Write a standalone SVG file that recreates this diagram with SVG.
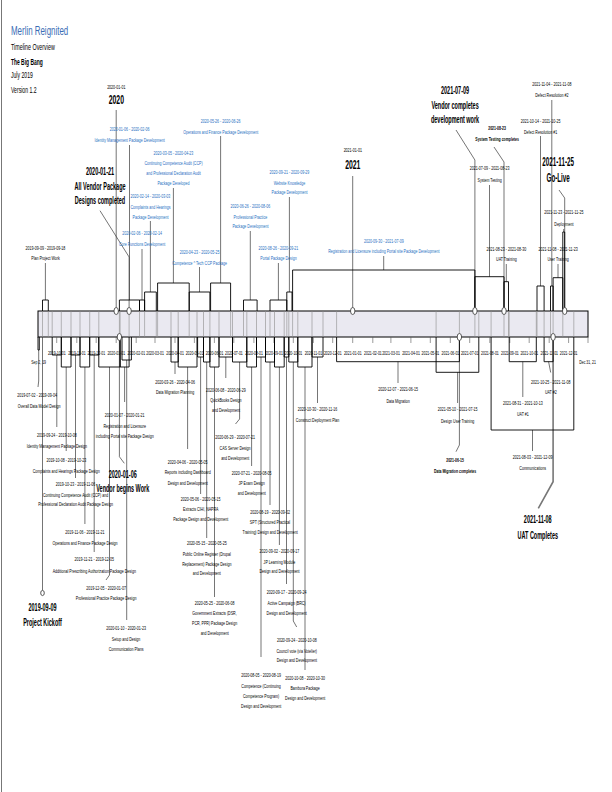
<svg xmlns="http://www.w3.org/2000/svg" width="612" height="792" viewBox="0 0 612 792">
<style>
text{font-family:"Liberation Sans",Arial,sans-serif;text-anchor:middle;transform-box:fill-box;transform-origin:center}
.s{font-size:5.6px;transform:scaleX(.64)}
.tk{font-size:5.6px;transform:scaleX(.62)}
.bl{fill:#1f6fbf}
.sb{font-size:5.8px;font-weight:bold;transform:scaleX(.6)}
.m{font-size:11px;font-weight:bold;transform:scaleX(.5)}
.g{font-size:12.5px;font-weight:bold;transform:scaleX(.5)}
.yr{font-size:12.5px;font-weight:bold;transform:scaleX(.55)}
.h{text-anchor:start;transform-origin:left center}
.br{fill:none;stroke:#000;stroke-width:.9}
.ld{fill:none;stroke:#3a3a3a;stroke-width:.7}
.ms{fill:#fff;stroke:#333;stroke-width:.8}
.gr{stroke:#8c8c8c;stroke-width:.6}
.tkl{stroke:#555;stroke-width:.6}
</style>
<rect width="612" height="792" fill="#fff"/>
<line x1="1.5" y1="0" x2="1.5" y2="792" stroke="#777" stroke-width="1"/>
<g id="header">
<text class="h" x="11" y="35" style="font-size:13px;fill:#3a6db5;transform:scaleX(.61)">Merlin Reignited</text>
<text class="h" x="11" y="50" style="font-size:8.5px;transform:scaleX(.63)">Timeline Overview</text>
<text class="h" x="11" y="65" style="font-size:8.5px;font-weight:bold;transform:scaleX(.58)">The Big Bang</text>
<text class="h" x="11" y="78.5" style="font-size:8.5px;transform:scaleX(.6)">July 2019</text>
<text class="h" x="11" y="93" style="font-size:8.5px;transform:scaleX(.6)">Version 1.2</text>
</g>
<g id="timeline">
<rect x="38" y="311" width="550" height="26" fill="#eae9f1" stroke="#000" stroke-width="1"/>
<g class="gr">
<path d="M42.5 311V337M48.3 311V337M52.2 311V337M61.3 311V337M71 311V337M80 311V337M89.7 311V337M98.8 311V337M119.4 311V337M120.1 311V337M129.1 311V337M139.5 311V337M144.6 311V337M156.3 311V337M157.6 311V337M171 311V337M178.2 311V337M189.2 311V337M197 311V337M203.5 311V337M209.9 311V337M219 311V337M230.6 311V337M232.5 311V337M243.5 311V337M246.8 311V337M256.5 311V337M265.5 311V337M270 311V337M274.5 311V337M284.2 311V337M286.8 311V337M288.8 311V337M292.6 311V337M297.8 311V337M312 311V337M323 311V337M336.6 311V337M436.1 311V337M459.4 311V337M474.9 311V337M478.8 311V337M491.1 311V337M504 311V337M508.5 311V337M509.2 311V337M536.3 311V337M537 311V337M544.1 311V337M550.5 311V337M553.1 311V337M562.8 311V337M573.8 311V337"/>
</g>
<path class="tkl" d="M56.7 337V343M76.8 337V343M96.2 337V343M116.2 337V343M136.2 337V343M155 337V343M175 337V343M194.4 337V343M214.4 337V343M233.8 337V343M253.9 337V343M273.9 337V343M293.3 337V343M313.3 337V343M332.7 337V343M352.7 337V343M372.8 337V343M390.9 337V343M410.9 337V343M430.3 337V343M450.3 337V343M469.7 337V343M489.8 337V343M509.8 337V343M529.2 337V343M549.2 337V343M568.6 337V343M588 337V343"/>
<g id="month-labels">
<text class="tk" x="56.7" y="355">2019-10-01</text>
<text class="tk" x="76.8" y="355">2019-11-01</text>
<text class="tk" x="96.2" y="355">2019-12-01</text>
<text class="tk" x="116.2" y="355">2020-01-01</text>
<text class="tk" x="136.2" y="355">2020-02-01</text>
<text class="tk" x="155" y="355">2020-03-01</text>
<text class="tk" x="175" y="355">2020-04-01</text>
<text class="tk" x="194.4" y="355">2020-05-01</text>
<text class="tk" x="214.4" y="355">2020-06-01</text>
<text class="tk" x="233.8" y="355">2020-07-01</text>
<text class="tk" x="253.9" y="355">2020-08-01</text>
<text class="tk" x="273.9" y="355">2020-09-01</text>
<text class="tk" x="293.3" y="355">2020-10-01</text>
<text class="tk" x="313.3" y="355">2020-11-01</text>
<text class="tk" x="332.7" y="355">2020-12-01</text>
<text class="tk" x="352.7" y="355">2021-01-01</text>
<text class="tk" x="372.8" y="355">2021-02-01</text>
<text class="tk" x="390.9" y="355">2021-03-01</text>
<text class="tk" x="410.9" y="355">2021-04-01</text>
<text class="tk" x="430.3" y="355">2021-05-01</text>
<text class="tk" x="450.3" y="355">2021-06-01</text>
<text class="tk" x="469.7" y="355">2021-07-01</text>
<text class="tk" x="489.8" y="355">2021-08-01</text>
<text class="tk" x="509.8" y="355">2021-09-01</text>
<text class="tk" x="529.2" y="355">2021-10-01</text>
<text class="tk" x="549.2" y="355">2021-11-01</text>
<text class="tk" x="568.6" y="355">2021-12-01</text>
<text class="tk" x="38.5" y="364.5">Sep 2, 19</text>
<text class="tk" x="587.5" y="364.5">Dec 31, 21</text>
</g>
</g>
<g id="connectors">
<path class="ld" d="M45.4 263V300M129.5 145V300M173.4 188V283M150.4 221V292M142 249V300M199.5 267V292M220.6 136V283M250.3 231V300M289.4 197V292M278.4 263V300M383.7 256V270M489.5 185V276.7M506.3 264V281.7M540.5 136V286M551.8 100V286M558 264V277.7M563.7 229V232"/>
<path class="ld" d="M116.2 110V311M100 210.7L129.1 257V311M352.7 176V311M456 130L474.9 160V311M494 147L504 162V311M559 190L564.7 198V311"/>
<path class="ld" d="M38.7 350V381L38 387M56.8 355V427M66.2 367V451M75.5 355V478M84.9 367V524M94.2 355V552M109.5 367V575L106 580M124.6 367V402M126.7 360V620M175 362V374M187.6 367V449M200.6 357V494M206.7 362V538M214.5 367V597M225.8 357V378M239.6 362V419L235.5 424M251.6 367V466M261 357V657M270 362V505M279.4 367V545M286.5 357V584M293.3 362V621L296.7 627M305 367V670M317.5 357V403M398 361.7V383M457.6 372.3V403M522.8 361.7V397M548.6 361.7L550.7 372.5M532.5 430V451"/>
<path class="ld" d="M42.5 337V590.5M119.4 337V456.7L124.3 463.3M459.4 337V445L456 451.7"/>
<path d="M553.1 337V481.7L538.3 508.3" fill="none" stroke="#777" stroke-width="1.6"/>
</g>
<g id="above-intervals">
<g id="plan-project-work"><path class="br" d="M42.5 311V300H48.3V311"/><text class="s" x="45.4" y="250">2019-09-09 - 2019-09-18</text><text class="s" x="45.4" y="260">Plan Project Work</text></g>
<g id="identity-dev"><path class="br" d="M119.4 311V300H139.5V311"/><text class="s bl" x="129.5" y="131">2020-01-06 - 2020-02-06</text><text class="s bl" x="129.5" y="142">Identity Management Package Development</text></g>
<g id="cca-dev"><path class="br" d="M157.6 311V283H189.2V311"/><text class="s bl" x="173.4" y="154.7">2020-03-05 - 2020-04-23</text><text class="s bl" x="173.4" y="165.3">Continuing Competence Audit (CCP)</text><text class="s bl" x="173.4" y="175.3">and Professional Declaration Audit</text><text class="s bl" x="173.4" y="185.3">Package Developed</text></g>
<g id="complaints-dev"><path class="br" d="M144.6 311V292H156.3V311"/><text class="s bl" x="150.4" y="198">2020-02-14 - 2020-03-03</text><text class="s bl" x="150.4" y="209.3">Complaints and Hearings</text><text class="s bl" x="150.4" y="218.7">Package Development</text></g>
<g id="core-dev"><path class="br" d="M139.5 311V300H144.6V311"/><text class="s bl" x="142" y="235.3">2020-02-06 - 2020-02-14</text><text class="s bl" x="142" y="246.3">Core Functions Development</text></g>
<g id="tech-ccp"><path class="br" d="M189.2 311V292H209.9V311"/><text class="s bl" x="199.5" y="254.3">2020-04-23 - 2020-05-25</text><text class="s bl" x="199.5" y="264.7">Competence ^ Tech CCP Package</text></g>
<g id="opsfin-dev"><path class="br" d="M210.6 311V283H230.6V311"/><text class="s bl" x="220.6" y="122.7">2020-05-26 - 2020-06-26</text><text class="s bl" x="220.6" y="133.7">Operations and Finance Package Development</text></g>
<g id="profprac-dev"><path class="br" d="M243.5 311V300H257.1V311"/><text class="s bl" x="250.3" y="207.7">2020-06-26 - 2020-08-06</text><text class="s bl" x="250.3" y="218.7">Professional Practice</text><text class="s bl" x="250.3" y="228">Package Development</text></g>
<g id="website-dev"><path class="br" d="M286.8 311V292H292V311"/><text class="s bl" x="289.4" y="174">2020-09-21 - 2020-09-29</text><text class="s bl" x="289.4" y="185.3">Website Knowledge</text><text class="s bl" x="289.4" y="194.3">Package Development</text></g>
<g id="portal-design"><path class="br" d="M270 311V300H286.8V311"/><text class="s bl" x="278.4" y="250.3">2020-08-26 - 2020-09-21</text><text class="s bl" x="278.4" y="260.3">Portal Package Design</text></g>
<g id="registration-dev"><path class="br" d="M292.6 311V270H474.9V311"/><text class="s bl" x="383.7" y="243">2020-09-30 - 2021-07-09</text><text class="s bl" x="383.7" y="253">Registration and Licensure including Portal site Package Development</text></g>
<g id="system-testing"><path class="br" d="M474.9 311V276.7H504V311"/><text class="s" x="489.5" y="170.3">2021-07-09 - 2021-08-23</text><text class="s" x="489.5" y="182">System Testing</text></g>
<g id="uat-training"><path class="br" d="M504 311V281.7H508.5V311"/><text class="s" x="506.3" y="251">2021-08-23 - 2021-08-30</text><text class="s" x="506.3" y="261">UAT Training</text></g>
<g id="defect-1"><path class="br" d="M537 311V286H544.1V311"/><text class="s" x="540.5" y="122.7">2021-10-14 - 2021-10-25</text><text class="s" x="540.5" y="133.7">Defect Resolution #1</text></g>
<g id="defect-2"><path class="br" d="M550.5 311V286H553.1V311"/><text class="s" x="551.8" y="86">2021-11-04 - 2021-11-08</text><text class="s" x="551.8" y="97">Defect Resolution #2</text></g>
<g id="user-training"><path class="br" d="M553.1 311V277.7H562.8V311"/><text class="s" x="558" y="251">2021-11-08 - 2021-11-23</text><text class="s" x="558" y="261">User Training</text></g>
<g id="deployment"><path class="br" d="M562.8 311V232H564.7V311"/><text class="s" x="563.7" y="214">2021-11-23 - 2021-11-25</text><text class="s" x="563.7" y="226">Deployment</text></g>
</g>
<g id="above-milestones">
<g id="m-2020"><ellipse class="ms" cx="116.2" cy="311" rx="2.2" ry="3.5"/><text class="s" x="116.2" y="89">2020-01-01</text><text class="yr" x="116.2" y="104">2020</text></g>
<g id="m-vendor-designs"><ellipse class="ms" cx="129.1" cy="311" rx="2.2" ry="3.5"/><text class="m" x="100" y="175">2020-01-21</text><text class="m" x="100" y="190">All Vendor Package</text><text class="m" x="100" y="204">Designs completed</text></g>
<g id="m-2021"><ellipse class="ms" cx="352.7" cy="311" rx="2.2" ry="3.5"/><text class="s" x="352.7" y="152">2021-01-01</text><text class="yr" x="352.7" y="169.5">2021</text></g>
<g id="m-vendor-dev"><ellipse class="ms" cx="474.9" cy="311" rx="2.2" ry="3.5"/><text class="m" x="455" y="94">2021-07-09</text><text class="m" x="455" y="109">Vendor completes</text><text class="m" x="455" y="123">development work</text></g>
<g id="m-systest"><ellipse class="ms" cx="504" cy="311" rx="2.2" ry="3.5"/><text class="sb" x="497" y="130">2021-08-23</text><text class="sb" x="497" y="141">System Testing completes</text></g>
<g id="m-golive"><ellipse class="ms" cx="564.7" cy="311" rx="2.2" ry="3.5"/><text class="g" x="558" y="166.5">2021-11-25</text><text class="g" x="558" y="182.5">Go-Live</text></g>
</g>
<g id="below-intervals">
<g id="data-model"><path class="br" d="M38 337V350H39.3V337"/><text class="s" x="37" y="397">2019-07-02 - 2019-09-04</text><text class="s" x="39" y="408">Overall Data Model Design</text></g>
<g id="identity-design"><path class="br" d="M52.2 337V355H61.3V337"/><text class="s" x="56.8" y="437">2019-09-24 - 2019-10-08</text><text class="s" x="56.8" y="447.7">Identity Management Package Design</text></g>
<g id="complaints-design"><path class="br" d="M61.3 337V367H71V337"/><text class="s" x="66.2" y="462">2019-10-08 - 2019-10-23</text><text class="s" x="66.2" y="473">Complaints and Hearings Package Design</text></g>
<g id="cca-design"><path class="br" d="M71 337V355H80V337"/><text class="s" x="75.5" y="486.3">2019-10-23 - 2019-11-06</text><text class="s" x="75.5" y="497">Continuing Competence Audit (CCP) and</text><text class="s" x="75.5" y="506">Professional Declaration Audit Package Design</text></g>
<g id="opsfin-design"><path class="br" d="M80 337V367H89.7V337"/><text class="s" x="84.9" y="533.7">2019-11-06 - 2019-11-21</text><text class="s" x="84.9" y="544.7">Operations and Finance Package Design</text></g>
<g id="prescribing-design"><path class="br" d="M89.7 337V355H98.8V337"/><text class="s" x="94.2" y="561.3">2019-11-21 - 2019-12-05</text><text class="s" x="94.2" y="572.7">Additional Prescribing Authorization Package Design</text></g>
<g id="profprac-design"><path class="br" d="M98.8 337V367H120.1V337"/><text class="s" x="106" y="590.3">2019-12-05 - 2020-01-07</text><text class="s" x="106" y="600.3">Professional Practice Package Design</text></g>
<g id="registration-design"><path class="br" d="M120.1 337V367H129.1V337"/><text class="s" x="124.6" y="417">2020-01-07 - 2020-01-21</text><text class="s" x="124.6" y="428">Registration and Licensure</text><text class="s" x="124.6" y="438">including Portal site Package Design</text></g>
<g id="comm-plans"><path class="br" d="M122 337V360H131.4V337"/><text class="s" x="126" y="630">2020-01-10 - 2020-01-23</text><text class="s" x="126" y="641">Setup and Design</text><text class="s" x="126" y="651">Communication Plans</text></g>
<g id="dm-planning"><path class="br" d="M171 337V362H178.2V337"/><text class="s" x="175" y="383.7">2020-03-26 - 2020-04-06</text><text class="s" x="175" y="393.7">Data Migration Planning</text></g>
<g id="reports"><path class="br" d="M178.2 337V367H197V337"/><text class="s" x="187.6" y="463.7">2020-04-06 - 2020-05-05</text><text class="s" x="187.6" y="474">Reports including Dashboard</text><text class="s" x="187.6" y="485.3">Design and Development</text></g>
<g id="extracts"><path class="br" d="M197.6 337V357H203.5V337"/><text class="s" x="200.6" y="501.3">2020-05-06 - 2020-05-15</text><text class="s" x="200.6" y="511.3">Extracts CIHI, NAPRA</text><text class="s" x="200.6" y="521.3">Package Design and Development</text></g>
<g id="public-register"><path class="br" d="M203.5 337V362H209.9V337"/><text class="s" x="206.7" y="545.3">2020-05-15 - 2020-05-25</text><text class="s" x="206.7" y="556.3">Public Online Register (Drupal</text><text class="s" x="206.7" y="566.3">Replacement) Package Design</text><text class="s" x="206.7" y="575.3">and Development</text></g>
<g id="gov-extracts"><path class="br" d="M209.9 337V367H219V337"/><text class="s" x="214.5" y="605.3">2020-05-25 - 2020-06-08</text><text class="s" x="214.5" y="615.3">Government Extracts (DSR,</text><text class="s" x="214.5" y="625.3">PCR, PPR) Package Design</text><text class="s" x="214.5" y="635.3">and Development</text></g>
<g id="quickbooks"><path class="br" d="M219 337V357H232.5V337"/><text class="s" x="225.8" y="392">2020-06-08 - 2020-06-29</text><text class="s" x="225.8" y="402">QuickBooks Design</text><text class="s" x="225.8" y="412">and Development</text></g>
<g id="cas"><path class="br" d="M232.5 337V362H246.8V337"/><text class="s" x="235" y="439.3">2020-06-29 - 2020-07-21</text><text class="s" x="235" y="450.3">CAS Server Design</text><text class="s" x="235" y="459.7">and Development</text></g>
<g id="jp-exam"><path class="br" d="M246.8 337V367H256.5V337"/><text class="s" x="251.6" y="474.7">2020-07-21 - 2020-08-05</text><text class="s" x="251.6" y="485.3">JP Exam Design</text><text class="s" x="251.6" y="494.7">and Development</text></g>
<g id="ccp-program"><path class="br" d="M256.5 337V357H265.5V337"/><text class="s" x="261" y="677">2020-08-05 - 2020-08-19</text><text class="s" x="261" y="687.7">Competence (Continuing</text><text class="s" x="261" y="698">Competence Program)</text><text class="s" x="261" y="708">Design and Development</text></g>
<g id="spt"><path class="br" d="M265.5 337V362H274.5V337"/><text class="s" x="270" y="513.7">2020-08-19 - 2020-09-02</text><text class="s" x="270" y="523.7">SPT (Structured Practical</text><text class="s" x="270" y="533.7">Training) Design and Development</text></g>
<g id="jp-learning"><path class="br" d="M274.5 337V367H284.2V337"/><text class="s" x="279.4" y="552.7">2020-09-02 - 2020-09-17</text><text class="s" x="279.4" y="563.7">JP Learning Module</text><text class="s" x="279.4" y="572.7">Design and Development</text></g>
<g id="active-campaign"><path class="br" d="M284.2 337V357H288.8V337"/><text class="s" x="286.5" y="593.7">2020-09-17 - 2020-09-24</text><text class="s" x="286.5" y="604.7">Active Campaign (BRC)</text><text class="s" x="286.5" y="614.7">Design and Development</text></g>
<g id="council-vote"><path class="br" d="M288.8 337V362H297.8V337"/><text class="s" x="296.7" y="642">2020-09-24 - 2020-10-08</text><text class="s" x="296.7" y="652.7">Council vote (via Votelier)</text><text class="s" x="296.7" y="662">Design and Development</text></g>
<g id="bambora"><path class="br" d="M297.8 337V367H312V337"/><text class="s" x="305" y="679.7">2020-10-08 - 2020-10-30</text><text class="s" x="305" y="690.3">Bambora Package</text><text class="s" x="305" y="700.3">Design and Development</text></g>
<g id="deploy-plan"><path class="br" d="M312 337V357H323V337"/><text class="s" x="317.5" y="411.3">2020-10-30 - 2020-11-16</text><text class="s" x="317.5" y="422">Construct Deployment Plan</text></g>
<g id="data-migration"><path class="br" d="M336.6 337V361.7H459.4V337"/><text class="s" x="398" y="391.3">2020-12-07 - 2021-06-15</text><text class="s" x="398" y="402.7">Data Migration</text></g>
<g id="design-user-training"><path class="br" d="M436.1 337V372.3H478.8V337"/><text class="s" x="457.6" y="411.3">2021-05-10 - 2021-07-15</text><text class="s" x="457.6" y="422.7">Design User Training</text></g>
<g id="uat-1"><path class="br" d="M509.2 337V361.7H536.3V337"/><text class="s" x="522.8" y="405.3">2021-08-31 - 2021-10-13</text><text class="s" x="522.8" y="416">UAT #1</text></g>
<g id="uat-2"><path class="br" d="M544.1 337V361.7H553.1V337"/><text class="s" x="550.7" y="383.7">2021-10-25 - 2021-11-08</text><text class="s" x="550.7" y="393.7">UAT #2</text></g>
<g id="communications"><path class="br" d="M491.1 337V430H573.8V337"/><text class="s" x="532.5" y="459.3">2021-08-03 - 2021-12-09</text><text class="s" x="532.5" y="470.3">Communications</text></g>
</g>
<g id="below-milestones">
<g id="m-kickoff"><ellipse class="ms" cx="42.5" cy="593" rx="1.8" ry="2.6"/><text class="m" x="42.5" y="611">2019-09-09</text><text class="m" x="42.5" y="626">Project Kickoff</text></g>
<g id="m-vendor-begins"><ellipse class="ms" cx="119.4" cy="337" rx="2.2" ry="3.5"/><text class="m" x="122.7" y="478">2020-01-06</text><text class="m" x="122.7" y="492.5">Vendor begins Work</text></g>
<g id="m-dm-complete"><ellipse class="ms" cx="459.4" cy="337" rx="2.2" ry="3.5"/><text class="sb" x="455" y="462">2021-06-15</text><text class="sb" x="455" y="473">Data Migration completes</text></g>
<g id="m-uat-complete"><ellipse class="ms" cx="553.1" cy="337" rx="2.2" ry="3.5"/><text class="m" x="537.7" y="523.3">2021-11-08</text><text class="m" x="537.7" y="539">UAT Completes</text></g>
</g>
</svg>
